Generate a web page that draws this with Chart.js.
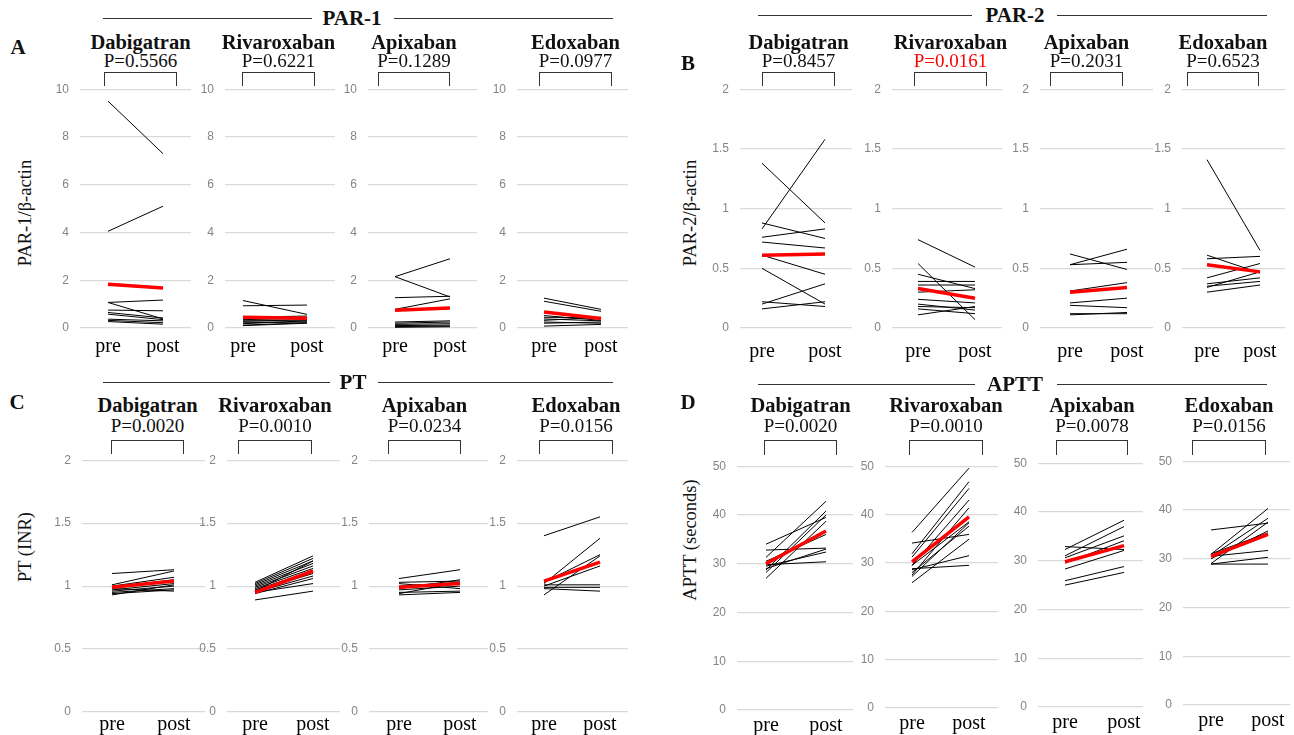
<!DOCTYPE html>
<html>
<head>
<meta charset="utf-8">
<script src="https://cdn.jsdelivr.net/npm/chart.js@4"></script>
<style>
  html, body { margin: 0; padding: 0; background: #fff; }
  #fig { position: relative; width: 1294px; height: 735px; overflow: hidden;
         font-family: "Liberation Serif", "Times New Roman", serif; color: #111; }
  #fig canvas { position: absolute; }
  .t { position: absolute; transform: translate(-50%, -50%); white-space: nowrap; line-height: 1; }
  .drug { font-weight: bold; font-size: 20.5px; }
  .pv { font-size: 19px; }
  .let { font-weight: bold; font-size: 21px; }
  .hd { font-weight: bold; font-size: 21px; }
  .yt { font-size: 18.5px; transform: translate(-50%, -50%) rotate(-90deg); }
  .hl { position: absolute; height: 0; border-top: 1.4px solid #333; }
  .br { position: absolute; border: 1.3px solid #333; border-bottom: none; box-sizing: border-box; }
</style>
</head>
<body>
<div id="fig"></div>
<script>
// ---------------- data ----------------
const CATS = ["pre", "post"];
const DRUGS = ["Dabigatran", "Rivaroxaban", "Apixaban", "Edoxaban"];

// A — PAR-1/β-actin  (each pair = [pre, post] of one patient)
const A_DABI = [[9.5,7.3],[4.05,5.1],[1.07,1.17],[1.07,0.38],[0.75,0.72],[0.65,0.42],[0.58,0.35],[0.37,0.30],[0.32,0.22],[0.27,0.16]];
const A_RIVA = [[1.15,0.57],[0.93,0.96],[0.45,0.5],[0.35,0.4],[0.3,0.3],[0.28,0.35],[0.22,0.25],[0.18,0.3],[0.12,0.22],[0.1,0.2]];
const A_APIX = [[2.15,2.9],[2.15,1.3],[1.27,1.33],[0.78,1.22],[0.25,0.3],[0.2,0.25],[0.15,0.18],[0.1,0.12],[0.06,0.08],[0.03,0.05]];
const A_EDOX = [[1.25,0.78],[1.12,0.7],[0.52,0.32],[0.45,0.42],[0.38,0.3],[0.32,0.45],[0.25,0.2],[0.2,0.25],[0.08,0.15]];
const A_MEAN = [[1.83,1.67],[0.45,0.41],[0.74,0.84],[0.67,0.4]];
const A_P = ["P=0.5566", "P=0.6221", "P=0.1289", "P=0.0977"];
const A_TICKS = [0, 2, 4, 6, 8, 10];

// B — PAR-2/β-actin
const B_DABI = [[1.38,0.88],[0.83,1.58],[0.88,0.75],[0.76,0.83],[0.72,0.67],[0.61,0.45],[0.5,0.2],[0.2,0.37],[0.16,0.22],[0.22,0.18]];
const B_RIVA = [[0.74,0.51],[0.54,0.07],[0.45,0.33],[0.39,0.39],[0.36,0.36],[0.30,0.32],[0.24,0.21],[0.2,0.15],[0.18,0.17],[0.16,0.12],[0.11,0.18]];
const B_APIX = [[0.62,0.49],[0.53,0.66],[0.53,0.55],[0.31,0.38],[0.21,0.25],[0.19,0.17],[0.12,0.12],[0.11,0.13]];
const B_EDOX = [[1.41,0.65],[0.61,0.46],[0.58,0.6],[0.42,0.54],[0.37,0.42],[0.34,0.47],[0.3,0.36],[0.35,0.39]];
const B_MEAN = [[0.61,0.62],[0.33,0.25],[0.30,0.34],[0.53,0.47]];
const B_P = ["P=0.8457", "P=0.0161", "P=0.2031", "P=0.6523"];
const B_TICKS = [0, 0.5, 1, 1.5, 2];

// C — PT (INR)
const C_DABI = [[1.1,1.13],[1.01,1.12],[1.0,1.07],[0.99,1.05],[0.97,1.02],[0.96,1.0],[0.95,0.98],[0.94,0.97],[0.93,1.01],[0.98,0.96]];
const C_RIVA = [[1.03,1.24],[1.02,1.22],[1.01,1.2],[1.0,1.18],[0.99,1.16],[0.98,1.14],[0.97,1.12],[0.96,1.1],[0.95,1.08],[0.94,1.06],[0.95,1.02],[0.89,0.96],[0.96,1.2]];
const C_APIX = [[1.06,1.13],[1.03,1.04],[1.02,0.98],[1.0,1.03],[0.98,1.05],[0.97,1.0],[0.95,0.96],[0.94,1.03],[0.93,0.95]];
const C_EDOX = [[1.4,1.55],[1.02,1.38],[1.03,1.25],[0.93,1.24],[1.0,1.16],[1.01,1.01],[0.99,0.99],[0.98,0.96]];
const C_MEAN = [[0.99,1.04],[0.95,1.12],[0.99,1.02],[1.04,1.19]];
const C_P = ["P=0.0020", "P=0.0010", "P=0.0234", "P=0.0156"];
const C_TICKS = [0, 0.5, 1, 1.5, 2];

// D — APTT (seconds)
const D_DABI = [[34,39.5],[32.8,33.2],[31.3,42.8],[29.8,30.4],[29.5,32.4],[28.7,40.8],[28.2,40],[27,38.7],[29,33],[30.5,36]];
const D_RIVA = [[36.3,49.6],[34.1,35.9],[31.9,46.8],[31.2,45.4],[29.5,43],[28.8,29.5],[28.6,31.5],[27.5,41.4],[27.2,38.3],[25.9,34.9],[28,37.6],[29.5,38.5]];
const D_APIX = [[32.9,32.3],[32.3,38.3],[31,37],[30.6,35.1],[29.5,34.1],[28.3,32.1],[25.9,28.8],[25,27.6]];
const D_EDOX = [[35.9,37.3],[30.9,40.3],[30.5,38.3],[30,35.7],[29,37.5],[30.5,31.7],[28.9,30.3],[28.9,28.9],[31,35.3]];
const D_MEAN = [[30.0,36.7],[30.2,39.5],[29.8,33.1],[30.5,35.0]];
const D_P = ["P=0.0020", "P=0.0010", "P=0.0078", "P=0.0156"];
const D_TICKS = [0, 10, 20, 30, 40, 50];

// ---------------- layout ----------------
const SERIF = '"Liberation Serif", "Times New Roman", serif';
const fig = document.getElementById("fig");

// plot: [gridLeft, gridRight, prePx, postPx, bracketL, bracketR, gridTop, gridBottom]
const PANELS = [
  { name: "PAR-1", hx: 352, hy: 18, l1: [103, 312], l2: [394, 613], letter: "A", lx: 18, ly: 47,
    ytitle: "PAR-1/\u03b2-actin", yx: 25, yy: 213, titleY: 42, pY: 60, brTop: 72, brBot: 86, xpad: -1,
    max: 10, ticks: A_TICKS, series: [A_DABI, A_RIVA, A_APIX, A_EDOX], mean: A_MEAN, p: A_P, pRed: [],
    plots: [[80,191,108,163,104,177,83,328],[225,335,243,307,242,315,83,328],[368,477,395,450,378,450,83,328],[517,628,544,601,539,612,83,328]] },
  { name: "PAR-2", hx: 1015, hy: 15, l1: [758, 972], l2: [1057, 1267], letter: "B", lx: 688, ly: 63,
    ytitle: "PAR-2/\u03b2-actin", yx: 690, yy: 213, titleY: 42, pY: 60, brTop: 72, brBot: 86, xpad: 4,
    max: 2, ticks: B_TICKS, series: [B_DABI, B_RIVA, B_APIX, B_EDOX], mean: B_MEAN, p: B_P, pRed: [1],
    plots: [[740,852,762,825,762,835,83,328],[892,1002,918,975,914,987,83,328],[1040,1153,1070,1127,1050,1123,83,328],[1182,1285,1207,1260,1187,1259,83,328]] },
  { name: "PT", hx: 353, hy: 382, l1: [103, 330], l2: [378, 613], letter: "C", lx: 17, ly: 402,
    ytitle: "PT (INR)", yx: 25, yy: 547, titleY: 405, pY: 425, brTop: 440, brBot: 454, xpad: -7,
    max: 2, ticks: C_TICKS, series: [C_DABI, C_RIVA, C_APIX, C_EDOX], mean: C_MEAN, p: C_P, pRed: [],
    plots: [[82,205,112,174,111,184,454,712],[227,340,255,313,238,312,454,712],[369,488,399,460,388,461,454,712],[517,628,544,600,539,613,454,712]] },
  { name: "APTT", hx: 1015, hy: 384, l1: [758, 975], l2: [1057, 1267], letter: "D", lx: 688, ly: 402,
    ytitle: "APTT (seconds)", yx: 690, yy: 540, titleY: 405, pY: 425, brTop: 440, brBot: 455, xpad: -4,
    max: 50, ticks: D_TICKS, series: [D_DABI, D_RIVA, D_APIX, D_EDOX], mean: D_MEAN, p: D_P, pRed: [],
    plots: [[737,853,766,826,764,837,460,710],[885,998,912,969,909,983,460,708],[1038,1143,1065,1124,1056,1128,457,707],[1183,1290,1211,1268,1192,1266,455,705]] },
];

const addText = (txt, cls, x, y, color) => {
  const d = document.createElement("div");
  d.className = "t " + cls;
  d.textContent = txt;
  d.style.left = x + "px"; d.style.top = y + "px";
  if (color) d.style.color = color;
  fig.appendChild(d);
};
const addLine = (x1, x2, y) => {
  const d = document.createElement("div");
  d.className = "hl";
  d.style.left = x1 + "px"; d.style.top = y + "px"; d.style.width = (x2 - x1) + "px";
  fig.appendChild(d);
};
const addBracket = (x1, x2, y1, y2) => {
  const d = document.createElement("div");
  d.className = "br";
  d.style.left = x1 + "px"; d.style.top = y1 + "px";
  d.style.width = (x2 - x1) + "px"; d.style.height = (y2 - y1) + "px";
  fig.appendChild(d);
};

const AX_W = 45, PAD_T = 12, AX_H = 34;

function makePlot(pnl, i) {
  const [L, R, pre, post, bL, bR, top, bot] = pnl.plots[i];
  const cv = document.createElement("canvas");
  const w = R - L + AX_W, h = bot - top + PAD_T + AX_H;
  cv.width = w; cv.height = h;
  cv.style.left = (L - AX_W) + "px"; cv.style.top = (top - PAD_T) + "px";
  cv.style.width = w + "px"; cv.style.height = h + "px";
  fig.appendChild(cv);

  const unit = post - pre;
  const xmin = -(pre - L) / unit, xmax = 1 + (R - post) / unit;
  const pts = (pair) => pair.map((v, k) => ({ x: k, y: v }));
  // mean first so it is painted on top
  const datasets = [{ data: pts(pnl.mean[i]), borderColor: "#ff0000", borderWidth: 3.5 }]
    .concat(pnl.series[i].map(p => ({ data: pts(p), borderColor: "#000", borderWidth: 1 })));

  new Chart(cv, {
    type: "line",
    data: { datasets },
    options: {
      responsive: false, animation: false, devicePixelRatio: 1,
      layout: { padding: { top: PAD_T, left: 0, right: 0, bottom: 0 } },
      elements: { point: { radius: 0 }, line: { tension: 0 } },
      plugins: { legend: { display: false }, tooltip: { enabled: false } },
      scales: {
        x: {
          type: "linear", min: xmin, max: xmax,
          grid: { display: false }, border: { display: false },
          afterBuildTicks: (sc) => { sc.ticks = CATS.map((c, k) => ({ value: k })); },
          afterFit: (sc) => { sc.height = AX_H; },
          ticks: { callback: (v) => CATS[v], maxRotation: 0, autoSkip: false, padding: pnl.xpad,
                   color: "#000", font: { family: SERIF, size: 20 } }
        },
        y: {
          min: 0, max: pnl.max,
          grid: { color: "#d9d9d9", drawTicks: false, lineWidth: 1.2 }, border: { display: false },
          afterBuildTicks: (sc) => { sc.ticks = pnl.ticks.map(v => ({ value: v })); },
          afterFit: (sc) => { sc.width = AX_W; },
          ticks: { callback: (v) => String(v), padding: 11, color: "#858585",
                   font: { family: '"Liberation Sans", Arial, sans-serif', size: 12 } }
        }
      }
    }
  });

  const cx = (bL + bR) / 2;
  addText(DRUGS[i], "drug", cx, pnl.titleY);
  addText(pnl.p[i], "pv", cx, pnl.pY, pnl.pRed.includes(i) ? "#ff0000" : null);
  addBracket(bL, bR, pnl.brTop, pnl.brBot);
}

PANELS.forEach(pnl => {
  addLine(pnl.l1[0], pnl.l1[1], pnl.hy);
  addLine(pnl.l2[0], pnl.l2[1], pnl.hy);
  addText(pnl.name, "hd", pnl.hx, pnl.hy);
  addText(pnl.letter, "let", pnl.lx, pnl.ly);
  addText(pnl.ytitle, "yt", pnl.yx, pnl.yy);
  for (let i = 0; i < 4; i++) makePlot(pnl, i);
});
</script>
</body>
</html>
